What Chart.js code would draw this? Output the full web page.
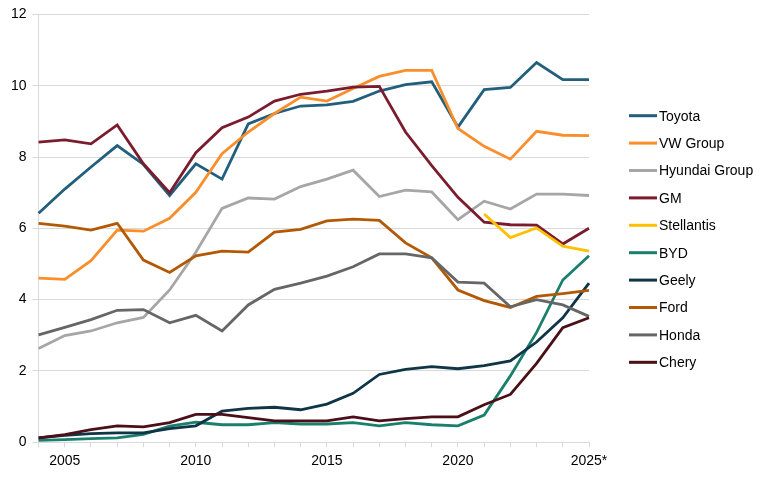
<!DOCTYPE html>
<html>
<head>
<meta charset="utf-8">
<script src="https://cdn.jsdelivr.net/npm/chart.js@4/dist/chart.umd.min.js"></script>
<style>
  html, body { margin: 0; padding: 0; background: #fff; }
  #wrap { width: 768px; height: 480px; }
</style>
</head>
<body>
<div id="wrap"><canvas id="c" width="768" height="480"></canvas></div>
<script>
// years on the x axis, last one is a forecast
const years = ['2004','2005','2006','2007','2008','2009','2010','2011','2012','2013','2014',
  '2015','2016','2017','2018','2019','2020','2021','2022','2023','2024','2025*'];
const yTicks = [0, 2, 4, 6, 8, 10, 12];

const toyota   = [6.42,7.1,7.72,8.32,7.79,6.92,7.81,7.38,8.93,9.22,9.43,9.46,9.56,9.85,10.03,10.11,8.84,9.89,9.95,10.65,10.17,10.17];
const vwGroup  = [4.6,4.57,5.09,5.95,5.92,6.28,7.01,8.09,8.7,9.22,9.68,9.57,9.92,10.26,10.43,10.43,8.8,8.3,7.94,8.72,8.61,8.6];
const hyundai  = [2.63,2.99,3.12,3.35,3.5,4.27,5.33,6.56,6.85,6.82,7.17,7.38,7.63,6.89,7.07,7.02,6.24,6.76,6.54,6.96,6.96,6.92];
const gm       = [8.42,8.48,8.37,8.9,7.81,7.0,8.12,8.82,9.12,9.57,9.76,9.85,9.96,9.98,8.7,7.76,6.87,6.17,6.1,6.09,5.56,6.0];
const stellantis = [null,null,null,null,null,null,null,null,null,null,null,null,null,null,null,null,null,6.4,5.74,6.01,5.5,5.36];
const byd      = [0.05,0.07,0.1,0.12,0.22,0.45,0.56,0.49,0.49,0.55,0.51,0.51,0.55,0.46,0.55,0.49,0.46,0.76,1.86,3.08,4.55,5.23];
const geely    = [0.12,0.19,0.24,0.26,0.26,0.38,0.46,0.87,0.95,0.98,0.91,1.07,1.37,1.9,2.04,2.12,2.06,2.15,2.28,2.81,3.49,4.46];
const ford     = [6.14,6.06,5.95,6.14,5.11,4.76,5.23,5.36,5.33,5.89,5.97,6.21,6.26,6.22,5.59,5.17,4.27,3.97,3.78,4.09,4.17,4.26];
const honda    = [3.01,3.22,3.44,3.7,3.72,3.35,3.56,3.12,3.85,4.29,4.46,4.66,4.92,5.28,5.28,5.17,4.49,4.46,3.8,4.0,3.85,3.53];
const chery    = [0.12,0.21,0.35,0.46,0.43,0.55,0.78,0.78,0.69,0.6,0.6,0.6,0.71,0.6,0.66,0.71,0.71,1.05,1.34,2.21,3.21,3.49];

const names  = ['Toyota','VW Group','Hyundai Group','GM','Stellantis','BYD','Geely','Ford','Honda','Chery'];
const series = [toyota, vwGroup, hyundai, gm, stellantis, byd, geely, ford, honda, chery];
const colors = ['#215F7D','#F98E2B','#A6A6A6','#7A1C2E','#FFC000','#1B7F6D','#0F3547','#B35905','#666666','#4B0F17'];

let datasets = [];
series.forEach((s, i) => {
  datasets.push({
    label: names[i],
    data: s,
    borderColor: colors[i],
    backgroundColor: colors[i],
    borderWidth: 2.8,
    pointRadius: 0,
    tension: 0,
    spanGaps: false,
    order: series.length - i   // later series on top, like the original
  });
});

// legend on the right, drawn by hand so it can sit away from the plot
const sideLegend = {
  id: 'sideLegend',
  afterDraw(chart) {
    const c = chart.ctx;
    let y = 115.7;
    c.save();
    c.font = '14px "Liberation Sans"';
    c.textBaseline = 'middle';
    chart.data.datasets.forEach(ds => {
      c.strokeStyle = ds.borderColor;
      c.lineWidth = 3;
      c.beginPath();
      c.moveTo(629, y);
      c.lineTo(657, y);
      c.stroke();
      c.fillStyle = '#000';
      c.fillText(ds.label, 659, y + 1);
      y += 27.4;
    });
    c.restore();
  }
};

const ctx = document.getElementById('c').getContext('2d');
new Chart(ctx, {
  type: 'line',
  data: { labels: years, datasets: datasets },
  plugins: [sideLegend],
  options: {
    responsive: false,
    animation: false,
    layout: { padding: { top: 14, right: 179, left: 5, bottom: 4 } },
    plugins: {
      tooltip: { enabled: false },
      legend: { display: false }
    },
    scales: {
      x: {
        offset: false,
        grid: { drawOnChartArea: false, drawTicks: true, tickLength: 5, color: '#D9D9D9' },
        border: { color: '#D9D9D9' },
        ticks: {
          autoSkip: false,
          maxRotation: 0,
          color: '#000',
          font: { family: 'Liberation Sans', size: 14 },
          padding: 6,
          callback: function(val, idx) {
            let lab = years[idx];
            return (parseInt(lab) % 5 === 0) ? lab : '';
          }
        }
      },
      y: {
        min: yTicks[0],
        max: yTicks[yTicks.length - 1],
        afterBuildTicks: (axis) => { axis.ticks = yTicks.map(v => ({ value: v })); },
        grid: { color: '#D9D9D9', tickLength: 6 },
        border: { color: '#D9D9D9' },
        ticks: {
          color: '#000',
          font: { family: 'Liberation Sans', size: 14 },
          padding: 6
        }
      }
    }
  }
});
</script>
</body>
</html>
